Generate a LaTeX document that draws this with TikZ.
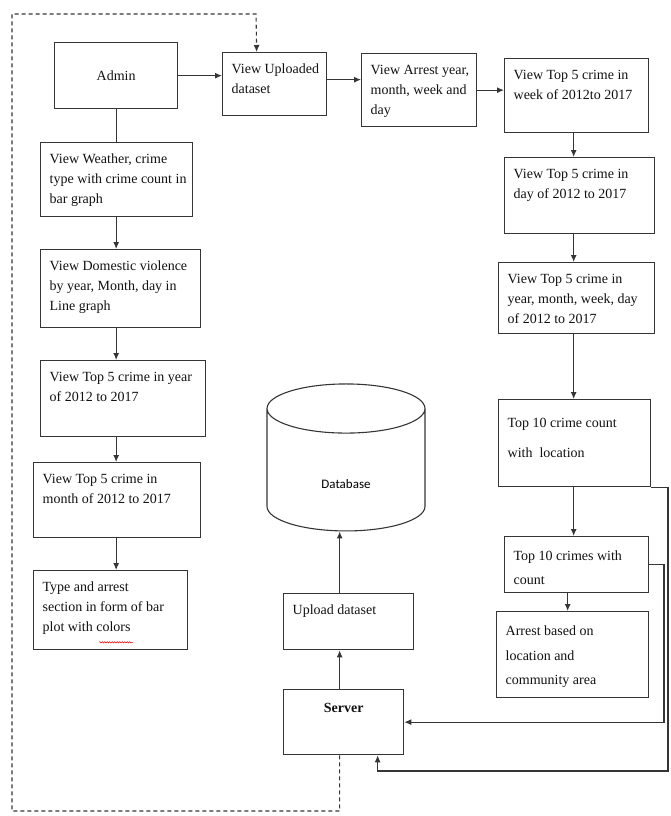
\documentclass[tikz,border=0pt]{standalone}
\usepackage{fontspec}
\setmainfont{Liberation Serif}
\newfontfamily\dbfont{Carlito}
\usetikzlibrary{arrows.meta,shapes.geometric,decorations.pathmorphing}

\definecolor{linegray}{HTML}{353535}
\definecolor{textgray}{HTML}{111111}

% text of a box, set from its top left corner
\newcommand{\boxtext}[4][1]{\parbox[c][\dimexpr#3pt-8pt\relax][t]{\dimexpr#2pt-18pt\relax}{%
  \vspace*{3pt}\renewcommand{\arraystretch}{#1}\begin{tabular}{@{}l@{}}#4\end{tabular}}}
% [line stretch]{name}{x,y}{width}{height}{lines}
\newcommand{\crimebox}[6][1]{%
  \node[flow box, minimum width=#4pt, minimum height=#5pt] (#2) at (#3) {\boxtext[#1]{#4}{#5}{#6}};}

\begin{document}
\begin{tikzpicture}[x=1pt, y=-1pt, >={Latex[length=7pt,width=6pt]},
    flow box/.style={draw=linegray, line width=1.3pt, anchor=north west, inner xsep=9pt, inner ysep=4pt, text=textgray},
    db shape/.style={cylinder, shape border rotate=90, aspect=1, draw=linegray, line width=1.1pt, minimum width=158pt, minimum height=147pt, inner sep=0pt},
    flow line/.style={draw=linegray, line width=1.1pt}]
  \tikzstyle{every node}=[font=\fontsize{14}{20}\selectfont]
  \useasboundingbox (0,0) rectangle (670,816);

  % top row
  \node[flow box, minimum width=123pt, minimum height=66pt] (admin) at (54,42) {Admin};
  \crimebox{upl}{222,52}{104}{63}{View Uploaded\\dataset}
  \crimebox{arrest}{361,53}{115}{73}{View Arrest year,\\month, week and\\day}
  \crimebox{week}{504,58}{144}{74}{View Top 5 crime in\\week of 2012to 2017}

  % right column
  \crimebox{day}{504,157}{150}{76}{View Top 5 crime in\\day of 2012 to 2017}
  \crimebox{ymwd}{498,262}{156}{71}{View Top 5 crime in\\year, month, week, day\\of 2012 to 2017}
  \crimebox[1.5]{loc}{498,399}{152}{87}{Top 10 crime count\\with\ \ location}
  \crimebox[1.2]{top10}{504,536}{144}{56}{Top 10 crimes with\\count}
  \crimebox[1.22]{based}{496,611}{152}{86}{Arrest based on\\location and\\community area}

  % left column
  \crimebox{weather}{40,142}{152}{74}{View Weather, crime\\type with crime count in\\bar graph}
  \crimebox{domestic}{40,249}{160}{78}{View Domestic violence\\by year, Month, day in\\Line graph}
  \crimebox{year}{40,360}{165}{76}{View Top 5 crime in year\\of 2012 to 2017}
  \crimebox{month}{33,462}{167}{75}{View Top 5 crime in\\month of 2012 to 2017}
  \crimebox{type}{33,570}{154}{79}{Type and arrest\\section in form of bar\\plot with colors}
  % spell check mark
  \draw[red, line width=0.5pt, decorate, decoration={snake, amplitude=0.7pt, segment length=2.5pt}]
    ([shift={(66,-8)}]type.south west) -- ([shift={(100,-8)}]type.south west);

  % middle
  \node[db shape] (db) at (346,470) {\dbfont\fontsize{13}{15}\selectfont\raisebox{-18pt}[0pt][0pt]{Database}};
  \crimebox{upload}{283,593}{130}{56}{Upload dataset}
  \node[flow box, minimum width=120pt, minimum height=65pt] (server) at (283,689)
    {\parbox[c][57pt][t]{102pt}{\centering\vspace*{5pt}\strut\textbf{Server}}};

  \coordinate (r1) at (664,700);
  \coordinate (r2) at (668,771);
  \coordinate (d1) at (12,811);
  \coordinate (d2) at (256,14);

  % connectors
  \path[flow line] (admin.south) -- (admin.south |- weather.north);
  \foreach \a/\b in {weather/domestic, domestic/year, year/month, month/type}
    \draw[flow line, ->] (admin.south |- \a.south) -- (admin.south |- \b.north);
  \draw[flow line, ->] (admin.east) -- (admin.east -| upl.west);
  \draw[flow line, ->] ([yshift=4.5pt]upl.east) -- ([yshift=4.5pt]upl.east -| arrest.west);
  \draw[flow line, ->] (arrest.east) -- (arrest.east -| week.west);
  \draw[flow line, ->] ([xshift=-3pt]week.south) -- ([xshift=-3pt]week.south |- day.north);
  \draw[flow line, ->] ([xshift=-3pt]week.south |- day.south) -- ([xshift=-3pt]week.south |- ymwd.north);
  \draw[flow line, ->] ([xshift=-3pt]week.south |- ymwd.south) -- ([xshift=-3pt]week.south |- loc.north);
  \draw[flow line, ->] ([xshift=-3pt]week.south |- loc.south) -- ([xshift=-3pt]week.south |- top10.north);
  \draw[flow line, ->] ([xshift=-9pt]top10.south) -- ([xshift=-9pt]top10.south |- based.north);
  \draw[flow line, ->] (top10.east) -| (r1) |- (server.east);
  \draw[flow line, ->] (loc.south east) -| (r2) -| ([xshift=34pt]server.south);
  \draw[flow line, ->] ([xshift=-4pt]server.north) -- ([xshift=-4pt]server.north |- upload.south);
  \draw[flow line, ->] ([xshift=-4pt]server.north |- upload.north) -- ([xshift=-4pt]server.north |- db.south);
  \draw[flow line, dash pattern=on 4pt off 3pt, ->] ([xshift=-4pt]server.south) |- (d1) |- (d2) -- ([xshift=-18pt]upl.north);
\end{tikzpicture}
\end{document}
